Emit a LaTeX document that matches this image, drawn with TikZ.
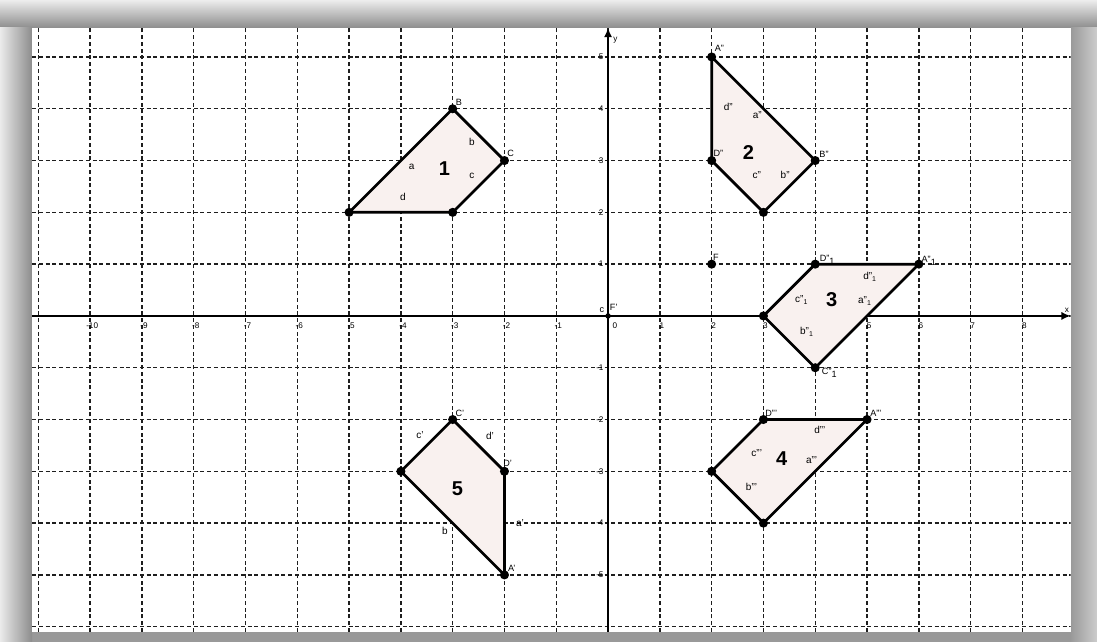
\documentclass[tikz,border=0pt]{standalone}
\usepackage{fontspec}
\setmainfont{Liberation Sans}
\usetikzlibrary{arrows.meta}

\definecolor{shapefill}{RGB}{249,241,239}
\definecolor{gridgray}{RGB}{30,30,30}

\tikzset{
  gridline/.style={line width=0.8pt, dash pattern=on 2.2pt off 1.5pt, gridgray},
  axisline/.style={line width=1.5pt, -{Latex[length=5pt,width=4.5pt]}},
  shapeline/.style={line width=1.5pt, fill=shapefill, line join=round},
  vdot/.style={circle, fill=black, inner sep=0pt, minimum size=5pt},
  vlabel/.style={font=\fontsize{5}{6}\selectfont, inner sep=0pt},
  sidelabel/.style={font=\fontsize{5.5}{6}\selectfont, inner sep=0pt},
  shapenum/.style={font=\fontsize{11}{12}\selectfont\bfseries, inner sep=0pt},
  ticklabel/.style={font=\fontsize{4.5}{5}\selectfont, inner sep=0pt}
}

\begin{document}
\begin{tikzpicture}
\useasboundingbox (-11.74,-6.29) rectangle (9.44,6.10);

% draw shadow frame
\fill[black!40] (-11.74,-6.29) rectangle (9.44,6.10);
\shade[top color=black!7, bottom color=black!45] (-11.74,5.56) rectangle (9.44,6.10);
\shade[left color=black!8, right color=black!45] (-11.74,-6.29) rectangle (-11.12,5.56);
\shade[left color=black!40, right color=black!20] (8.93,-6.29) rectangle (9.44,5.56);

% draw paper
\fill[white] (-11.12,-6.10) rectangle (8.93,5.56);

% draw grid lines
\begin{scope}
\clip (-11.12,-6.10) rectangle (8.93,5.56);
\foreach \x in {-11,-10,...,9}
\draw[gridline] (\x,-6.10) -- (\x,5.56);
\foreach \y in {-6,-5,...,5}
\draw[gridline] (-11.12,\y) -- (8.93,\y);
\end{scope}

% draw axes
\coordinate (xs) at (-11.12,0);
\coordinate (xe) at (8.93,0);
\coordinate (ys) at (0,-6.10);
\coordinate (ye) at (0,5.56);
\draw[axisline] (xs) -- (xe);
\draw[axisline] (ys) -- (ye);
\node[ticklabel] (xname) at (8.86,0.10) {x};
\node[ticklabel] (yname) at (0.14,5.33) {y};

% tick labels
\foreach \x in {-10,-9,...,-1,1,2,...,8}
\node[ticklabel, anchor=north] (xt\x) at (\x+0.04,-0.12) {\x};
\node[ticklabel, anchor=north] (xt0) at (0.13,-0.12) {0};
\foreach \y in {-5,-4,...,-1,1,2,...,5}
\node[ticklabel, anchor=east] (yt\y) at (-0.08,\y) {\y};

% origin and point F
\node[vdot, minimum size=3pt] (O) at (0,0) {};
\node[vlabel] (lOc) at (-0.12,0.12) {c};
\node[vlabel] (lOf) at (0.11,0.16) {F'};
\node[vdot] (F) at (2,1) {};
\node[vlabel] (lF) at (2.08,1.14) {F};

% shape 1
\coordinate (A) at (-5,2);
\coordinate (B) at (-3,4);
\coordinate (C) at (-2,3);
\coordinate (D) at (-3,2);
\draw[shapeline] (A) -- (B) -- (C) -- (D) -- cycle;
\foreach \p in {A,B,C,D}
\node[vdot] (d\p) at (\p) {};
\node[vlabel] (lB) at (-2.88,4.13) {B};
\node[vlabel] (lC) at (-1.88,3.13) {C};
\foreach \x/\y/\descr [count=\i] in {-3.79/2.87/a,-2.63/3.36/b,-2.63/2.71/c,-3.96/2.29/d}
\node[sidelabel] (s1\i) at (\x,\y) {\descr};
\node[shapenum] (n1) at (-3.16,2.85) {1};

% shape 2
\coordinate (A2) at (2,5);
\coordinate (B2) at (4,3);
\coordinate (C2) at (3,2);
\coordinate (D2) at (2,3);
\draw[shapeline] (A2) -- (B2) -- (C2) -- (D2) -- cycle;
\foreach \p in {A2,B2,C2,D2}
\node[vdot] (d\p) at (\p) {};
\node[vlabel] (lA2) at (2.15,5.17) {A''};
\node[vlabel] (lB2) at (4.17,3.12) {B''};
\node[vlabel] (lD2) at (2.13,3.14) {D''};
\foreach \x/\y/\descr [count=\i] in {2.32/4.03/d'',2.88/3.88/a'',2.87/2.72/c'',3.42/2.72/b''}
\node[sidelabel] (s2\i) at (\x,\y) {\descr};
\node[shapenum] (n2) at (2.71,3.16) {2};

% shape 3
\coordinate (A3) at (6,1);
\coordinate (B3) at (3,0);
\coordinate (C3) at (4,-1);
\coordinate (D3) at (4,1);
\draw[shapeline] (D3) -- (A3) -- (C3) -- (B3) -- cycle;
\foreach \p in {A3,B3,C3,D3}
\node[vdot] (d\p) at (\p) {};
\node[vlabel] (lA3) at (6.2,1.06) {A''\textsubscript{1}};
\node[vlabel] (lC3) at (4.28,-1.1) {C''\textsubscript{1}};
\node[vlabel] (lD3) at (4.24,1.08) {D''\textsubscript{1}};
\foreach \x/\y/\descr [count=\i] in {5.06/0.76/d''\textsubscript{1},3.74/0.31/c''\textsubscript{1},4.96/0.28/a''\textsubscript{1},3.84/-0.30/b''\textsubscript{1}}
\node[sidelabel] (s3\i) at (\x,\y) {\descr};
\node[shapenum] (n3) at (4.32,0.32) {3};

% shape 4
\coordinate (A4) at (5,-2);
\coordinate (B4) at (2,-3);
\coordinate (C4) at (3,-4);
\coordinate (D4) at (3,-2);
\draw[shapeline] (D4) -- (A4) -- (C4) -- (B4) -- cycle;
\foreach \p in {A4,B4,C4,D4}
\node[vdot] (d\p) at (\p) {};
\node[vlabel] (lA4) at (5.17,-1.88) {A'''};
\node[vlabel] (lD4) at (3.15,-1.88) {D'''};
\foreach \x/\y/\descr [count=\i] in {4.09/-2.2/d''',2.87/-2.65/c''',3.93/-2.78/a''',2.77/-3.3/b'''}
\node[sidelabel] (s4\i) at (\x,\y) {\descr};
\node[shapenum] (n4) at (3.35,-2.75) {4};

% shape 5
\coordinate (A5) at (-2,-5);
\coordinate (B5) at (-4,-3);
\coordinate (C5) at (-3,-2);
\coordinate (D5) at (-2,-3);
\draw[shapeline] (C5) -- (D5) -- (A5) -- (B5) -- cycle;
\foreach \p in {A5,B5,C5,D5}
\node[vdot] (d\p) at (\p) {};
\node[vlabel] (lA5) at (-1.86,-4.87) {A'};
\node[vlabel] (lC5) at (-2.86,-1.88) {C'};
\node[vlabel] (lD5) at (-1.94,-2.84) {D'};
\foreach \x/\y/\descr [count=\i] in {-3.63/-2.30/c',-2.28/-2.32/d',-1.70/-4.0/a',-3.15/-4.15/b}
\node[sidelabel] (s5\i) at (\x,\y) {\descr};
\node[shapenum] (n5) at (-2.91,-3.33) {5};
\end{tikzpicture}
\end{document}
